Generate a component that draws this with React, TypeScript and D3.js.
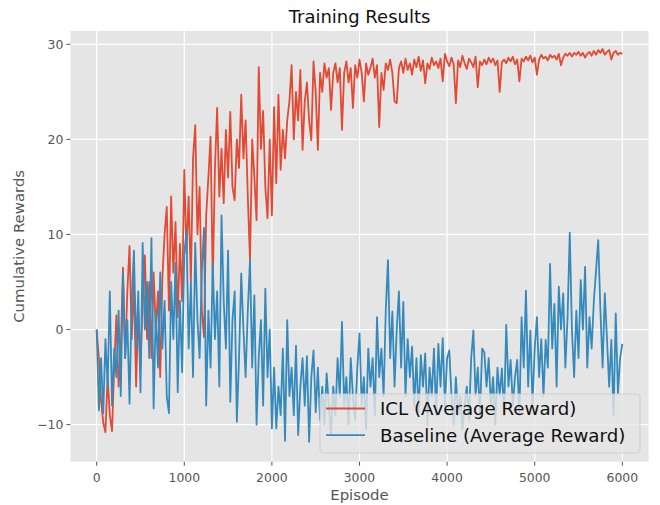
// Training results — ICL vs Baseline average reward (ggplot-like look)
import * as d3 from 'd3';

// ── Data (one point every 25 episodes) ──
const STEP = 25;

const ICL: number[] = [
  0, -3, -7.5, -9.8, -10.8, -5, -9, -10.7, -4, 1.5, -6, -2, 6.5,
  -3, 4, 8.8, -1, 5, -6, 2, -4,
  3, 7.8, -1, 5, -3, 6, 0, 4,
  -5, 5.4, 10, 12.9, 2, 14, 6, 11.3,
  1.3, 9, 3, 16.8, 8, 14, 5, 18,
  21.5, 10, 15, 2, -0.8, 12, 16, 20.3,
  5, 17, 23.3, 14, 19, 13.3, 21, 16,
  22.9, 15, 13.6, 20, 17, 24.7, 18, 22,
  14, 7.3, 20, 16, 11.5, 27.6, 19, 23,
  15, 11.7, 20, 12, 23.4, 15.4, 24.7, 16.8,
  21, 18, 22, 24, 27.8, 20, 25, 22,
  27.3, 18.9, 24, 26, 22, 19.9, 28.2, 25,
  18.9, 27, 25, 28, 26.5, 27.5, 23.1, 27,
  28, 26, 27.5, 21, 27, 28.2, 26, 27.5,
  23.3, 27.8, 26.5, 28.4, 27, 24, 28, 26.8,
  27.5, 28.5, 26.5, 27.8, 21.3, 27, 25.2, 28,
  27.3, 28.4, 27, 24, 23.8, 27.5, 28.2, 27,
  28.5, 27.3, 28, 26.8, 28.4, 27.6, 28.7, 27.2,
  28.3, 25.9, 28, 27.4, 28.6, 27.8, 28.2, 27.5,
  28.5, 26.1, 29, 28.2, 27.7, 28.6, 27.9, 23.8,
  28.3, 27.6, 28.8, 28, 27.4, 28.5, 28.1, 27.6,
  28.7, 25.5, 28.2, 27.8, 28.4, 27.9, 28.6, 28.1,
  28.5, 27.8, 28.3, 25, 28.1, 28.4, 28, 28.6,
  28.2, 28.7, 27.9, 28.4, 26.1, 28.5, 28.2, 28.7,
  28.3, 28.8, 28.1, 28.6, 26.8, 28.4, 28.9, 28.5,
  28.7, 28.3, 28.9, 28.6, 28.8, 28.4, 29, 27.8,
  28.6, 29, 28.8, 29.1, 28.7, 29.1, 28.9, 29.2,
  28.8, 29.1, 28.6, 29, 29.2, 28.8, 29.3, 28.9,
  29.4, 29.1, 29.5, 28.9, 29.2, 29.4, 28.4, 29.1,
  29.3, 28.9, 29.1, 29,
];

const BASELINE: number[] = [
  0, -8.5, -3, -8.8, -1, -6, 4, -8, -2,
  -5, 2, -7, 5.9, -3, 1, -7.8, 3,
  8.3, -2, 4, -6.6, 9.1, 0, 5, -3,
  9.6, -8.3, 2, -4, 6, -2, 3, -7,
  -8.8, 5, -1, 7, -6.6, 3, -4.5, 8,
  10.4, -2, 5, -5, 9.1, 1, -3, 6,
  10.7, -8, 2, -4, 7, -1, 4, -6,
  12, 3, -2, 8.3, -7.6, 1, 4, -9.7,
  -3, 5.9, 0, -5, 2, 7.3, -4, 3.6,
  -10, -3, 1, -8, 4.3, -5, 0, -10.4,
  -4, -10.4, -6, -9, -2, -11.7, 1, -7,
  -4, -9, -1.7, -11.1, -6, -3, -8, -2.8,
  -11.8, -5, -2.2, -8.7, -4, -9.5, -6, -10,
  -4.6, -8, -11, -6, -9, -3, -7, 0.8,
  -8, -5, -10, -3, -7, -9.5, -4, -0.4,
  -8, -5, -10.5, -2, -6, -3, -9, 1.3,
  -5, -2, -7, 2, 7.3, -3, 1.9, -6,
  0, 4, -4, 2.9, -7, -1, -5, -1.8,
  -8, -3, -9, -2.7, -6, -2.5, -10, -4,
  -7, -2, -9, -1.5, -6, -0.9, -8, -3,
  -2.2, -7, -10, -5, -9, -7, -10.5, -8,
  -6, -9.5, -3, -0.1, -7, -4, -9, -2,
  -2.4, -6, -3, -8, -5, -10, -4, -7,
  -4.1, -9, 0.5, -6, -3.2, -8, -5, -3.2,
  -9, 1.3, -4, 4.1, -6, -0.1, -8, -2,
  1.3, -5, -1, -7, -1.1, -4, 6.9, -2,
  2.7, -6, 4.5, 0, 3.8, -4, 1.3, 10.2,
  -0.1, -5, 2, -3, 5.2, 0, 6.6, -4,
  1.3, -2, 3, 6.2, 9.4, 2, -4, 3.8,
  -1, -6, -1.1, -9, 1.7, -6.7, -3, -1.5,
];

const X_TICKS = [0, 1000, 2000, 3000, 4000, 5000, 6000];
const Y_TICKS = [-10, 0, 10, 20, 30];

const SERIES = [
  { name: 'ICL (Average Reward)', values: ICL, color: '#E24A33' },
  { name: 'Baseline (Average Reward)', values: BASELINE, color: '#348ABD' },
];

const W = 660;
const H = 505;
const M = { left: 70.4, right: 648.6, top: 31, bottom: 461.7 };
const FONT = '"DejaVu Sans", sans-serif';

export default function App() {
  const x = d3.scaleLinear().domain([-300, 6300]).range([M.left, M.right]);
  const y = d3.scaleLinear().domain([-13.9, 31.4]).range([M.bottom, M.top]);

  const line = d3.line<number>()
    .x((_, i) => x(i * STEP))
    .y(d => y(d));

  return (
    <svg width={W} height={H} style={{ position: 'absolute', left: 0, top: 0, background: '#fff' }}>
      <defs>
        <clipPath id="plot">
          <rect x={M.left} y={M.top} width={M.right - M.left} height={M.bottom - M.top} />
        </clipPath>
      </defs>

      {/* fond + grille */}
      <rect x={M.left} y={M.top} width={M.right - M.left} height={M.bottom - M.top} fill="#E5E5E5" />
      {X_TICKS.map(t => (
        <line key={'gx' + t} x1={x(t)} x2={x(t)} y1={M.top} y2={M.bottom} stroke="#fff" strokeWidth={1.2} />
      ))}
      {Y_TICKS.map(t => (
        <line key={'gy' + t} x1={M.left} x2={M.right} y1={y(t)} y2={y(t)} stroke="#fff" strokeWidth={1.2} />
      ))}

      {/* séries */}
      <g clipPath="url(#plot)">
        {SERIES.map(s => (
          <path key={s.name} d={line(s.values) ?? ''} fill="none" stroke={s.color}
            strokeWidth={1.8} strokeLinejoin="round" />
        ))}
      </g>

      {/* ticks X */}
      {X_TICKS.map(t => (
        <g key={'tx' + t}>
          <line x1={x(t)} x2={x(t)} y1={M.bottom} y2={M.bottom + 4} stroke="#555" strokeWidth={1} />
          <text x={x(t)} y={482} textAnchor="middle" fontSize={12.4} fill="#555" fontFamily={FONT}>{t}</text>
        </g>
      ))}
      {/* ticks Y */}
      {Y_TICKS.map(t => (
        <g key={'ty' + t}>
          <line x1={M.left - 4} x2={M.left} y1={y(t)} y2={y(t)} stroke="#555" strokeWidth={1} />
          <text x={M.left - 7} y={y(t) + 4.4} textAnchor="end" fontSize={12.4} fill="#555" fontFamily={FONT}>
            {t < 0 ? '\u2212' + Math.abs(t) : t}
          </text>
        </g>
      ))}

      {/* titres */}
      <text x={(M.left + M.right) / 2} y={23} textAnchor="middle" fontSize={18} fill="#111" fontFamily={FONT}>
        Training Results
      </text>
      <text x={(M.left + M.right) / 2} y={500} textAnchor="middle" fontSize={14.9} fill="#555" fontFamily={FONT}>
        Episode
      </text>
      <text transform={`translate(24,${(M.top + M.bottom) / 2}) rotate(-90)`} textAnchor="middle"
        fontSize={14.9} fill="#555" fontFamily={FONT}>
        Cumulative Rewards
      </text>

      {/* légende */}
      <g>
        <rect x={320} y={394} width={320} height={59} rx={3} fill="#E5E5E5" fillOpacity={0.8}
          stroke="#cccccc" strokeOpacity={0.8} />
        {SERIES.map((s, i) => (
          <g key={'lg' + s.name}>
            <line x1={326} x2={365} y1={408.5 + i * 26.7} y2={408.5 + i * 26.7} stroke={s.color} strokeWidth={1.8} />
            <text x={380} y={408.5 + i * 26.7 + 6.5} fontSize={18.2} fill="#111" fontFamily={FONT}>{s.name}</text>
          </g>
        ))}
      </g>
    </svg>
  );
}
